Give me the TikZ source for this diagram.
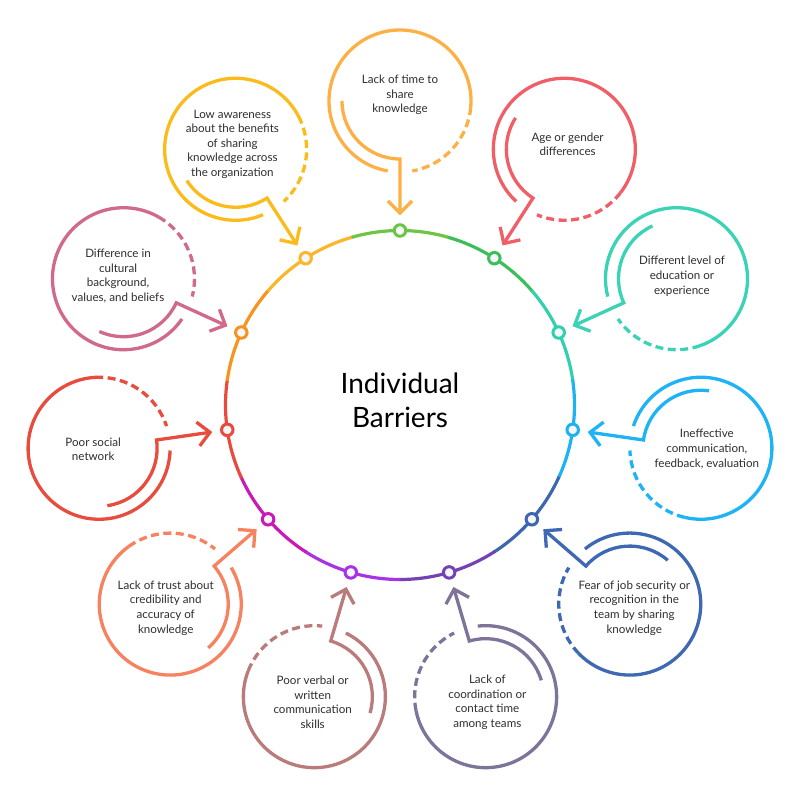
\documentclass[tikz,border=0pt]{standalone}
\usepackage{fontspec}
\setmainfont{Lato}
\usetikzlibrary{calc}
\definecolor{o0}{HTML}{FDB045}\definecolor{r0}{HTML}{6CC644}
\definecolor{o1}{HTML}{F05F68}\definecolor{r1}{HTML}{3DBE5B}
\definecolor{o2}{HTML}{3AD3B6}\definecolor{r2}{HTML}{33D0B0}
\definecolor{o3}{HTML}{1DB3F5}\definecolor{r3}{HTML}{20B1F3}
\definecolor{o4}{HTML}{3E68B2}\definecolor{r4}{HTML}{3D66B0}
\definecolor{o5}{HTML}{7E7399}\definecolor{r5}{HTML}{7442B4}
\definecolor{o6}{HTML}{B97C7A}\definecolor{r6}{HTML}{A633E5}
\definecolor{o7}{HTML}{F7825F}\definecolor{r7}{HTML}{C71AB6}
\definecolor{o8}{HTML}{E84C3D}\definecolor{r8}{HTML}{E84A3C}
\definecolor{o9}{HTML}{D1698A}\definecolor{r9}{HTML}{F7931E}
\definecolor{o10}{HTML}{FBBC1B}\definecolor{r10}{HTML}{FBB72B}
\definecolor{txtc}{HTML}{2E2E2E}
\definecolor{dotfill}{HTML}{F4F6F9}
\tikzset{
  ringseg/.style={line width=3.2pt},
  outerline/.style={line width=3.3pt},
  dsh/.style={line width=3.3pt, dash pattern=on 8pt off 4.5pt},
  lbl/.style={align=center, text=txtc, inner sep=0pt, font=\fontsize{11.6}{14.6}\selectfont},
  ringdot/.style={circle, fill=dotfill, line width=3pt, minimum size=11.5pt, inner sep=0pt},
  title/.style={align=center, text=black, inner sep=0pt, font=\fontsize{28}{34}\selectfont}
}
\begin{document}
\begin{tikzpicture}[x=1pt,y=1pt]
\useasboundingbox (-400,-395) rectangle (400,405);
\fill[white] (-400,-395) rectangle (400,405);
% ring segments
\foreach \k in {0,...,10}{
  \pgfmathsetmacro\a{90-\k*360/11}
  \draw[ringseg, draw=r\k] ({\a-16.6}:174.5) arc[start angle={\a-16.6}, end angle={\a+16.6}, radius=174.5];
}
\node[title] (center) at (0,5) {Individual\\Barriers};
% outer circles
\foreach \k/\txt in {
  0/{Lack of time to\\share\\knowledge},
  1/{Age or gender\\differences},
  2/{Different level of\\education or\\experience},
  3/{Ineffective\\communication,\\feedback, evaluation},
  4/{Fear of job security or\\recognition in the\\team by sharing\\knowledge},
  5/{Lack of\\coordination or\\contact time\\among teams},
  6/{Poor verbal or\\written\\communication\\skills},
  7/{Lack of trust about\\credibility and\\accuracy of\\knowledge},
  8/{Poor social\\network},
  9/{Difference in\\cultural\\background,\\values, and beliefs},
  10/{Low awareness\\about the benefits\\of sharing\\knowledge across\\the organization}}{
  \pgfmathsetmacro\a{90-\k*360/11}
  \pgfmathsetmacro\d{\a+180}
  \coordinate (c\k) at (\a:304);
  \coordinate (t\k) at ($(c\k)+(\d:112)$);
  \draw[outerline, draw=o\k] ($(c\k)+({\d-10}:71)$) arc[start angle={\d-10}, end angle={\d-275}, radius=71];
  \draw[dsh, draw=o\k] ($(c\k)+({\d+85}:71)$) arc[start angle={\d+85}, end angle={\d+10}, radius=71];
  \draw[outerline, draw=o\k] ($(c\k)+({\d-90}:58)$) arc[start angle={\d-90}, end angle={\d}, radius=58] -- (t\k);
  \draw[outerline, draw=o\k] ($(t\k)+({\d+135}:17)$) -- (t\k) -- ($(t\k)+({\d-135}:17)$);
  \node[lbl] (l\k) at ($(c\k)+(\a:6)$) {\txt};
  \node[ringdot, draw=r\k] (p\k) at (\a:174.5) {};
}
\end{tikzpicture}
\end{document}
